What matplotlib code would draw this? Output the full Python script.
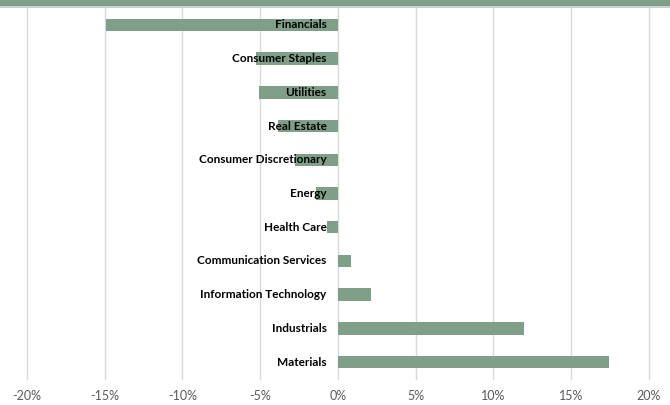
import matplotlib.pyplot as plt
from matplotlib.patches import Rectangle
from matplotlib.ticker import FuncFormatter

plt.rcParams['font.family'] = ['Lato', 'DejaVu Sans']

sectors = ["Financials", "Consumer Staples", "Utilities", "Real Estate",
           "Consumer Discretionary", "Energy", "Health Care",
           "Communication Services", "Information Technology",
           "Industrials", "Materials"]
returns = [-14.9, -5.25, -5.05, -3.85, -2.75, -1.4, -0.7, 0.82, 2.15, 12.0, 17.45]

fig = plt.figure(figsize=(6.7, 4.05), dpi=100)
ax = fig.add_axes([27 / 670, 1 - 379 / 405, (648.7 - 27) / 670, 371 / 405])

# green band across the top
fig.patches.append(Rectangle((0, 1 - 6 / 405), 1, 6 / 405, transform=fig.transFigure,
                             facecolor="#7f9f88", edgecolor="none"))
fig.patches.append(Rectangle((0, 1 - 8 / 405), 1, 2 / 405, transform=fig.transFigure,
                             facecolor="#c8d3cb", edgecolor="none"))

ypos = list(range(len(sectors)))
ax.barh(ypos, returns, height=0.37, color="#7f9f88", zorder=2)

for y, name in zip(ypos, sectors):
    ax.annotate(name, xy=(0, y), xytext=(-8, 0), textcoords="offset points",
                ha="right", va="center", fontsize=8.5, fontweight="bold",
                color="black", zorder=3)

ax.set_xlim(-20, 20)
ax.set_ylim(len(sectors) - 0.5, -0.5)
ax.set_xticks(range(-20, 21, 5))
ax.xaxis.set_major_formatter(FuncFormatter(lambda v, p: f"{v:.0f}%"))
ax.set_yticks([])
ax.tick_params(axis="x", length=0, labelsize=9, labelcolor="#595959", pad=8)
ax.grid(axis="x", color="#d9d9d9", linewidth=1, zorder=0)
for gl in ax.get_xgridlines():
    gl.set_clip_on(False)
ax.set_axisbelow(True)
for s in ax.spines.values():
    s.set_visible(False)

fig.savefig("out.png", dpi=100)
